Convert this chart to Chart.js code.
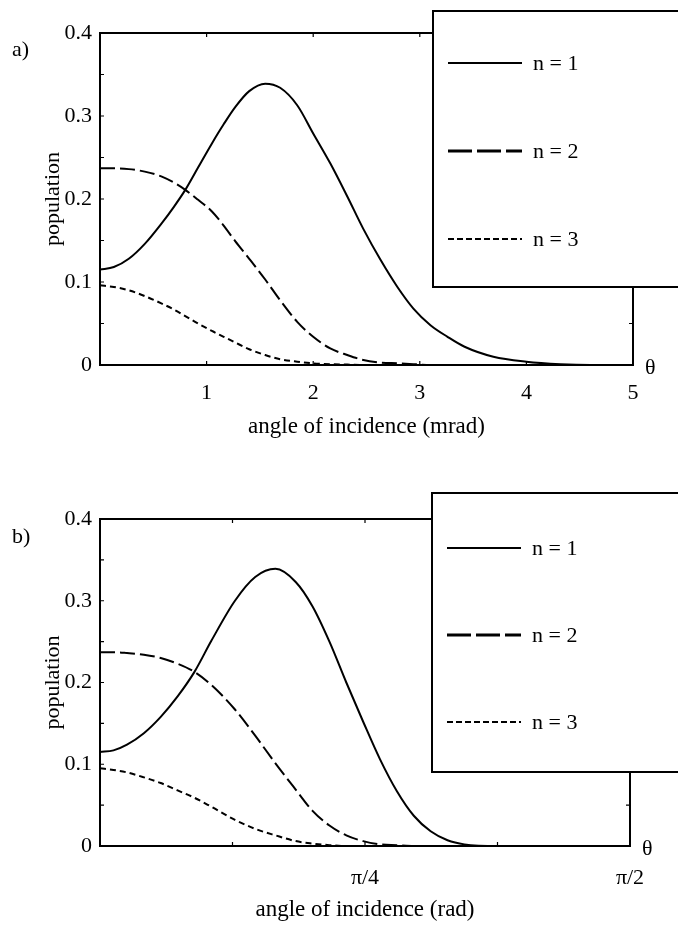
<!DOCTYPE html>
<html lang="en">
<head>
<meta charset="UTF-8" />
<title>Population vs angle of incidence</title>
<script src="https://cdn.jsdelivr.net/npm/chart.js"></script>
<style>
  * { margin: 0; padding: 0; box-sizing: border-box; }
  body { width: 678px; height: 937px; background: #fff; position: relative; overflow: hidden; }
  .panel { position: absolute; left: 0; width: 678px; }
  #panelA { top: 0; height: 450px; }
  #panelB { top: 450px; height: 487px; }
</style>
</head>
<body>
<div class="panel" id="panelA"><canvas id="chartA"></canvas></div>
<div class="panel" id="panelB"><canvas id="chartB"></canvas></div>

<script>
// panel a) angle in mrad
const anglesA = [0, 0.13, 0.27, 0.42, 0.58, 0.69, 0.80, 0.92, 1.05, 1.16, 1.27, 1.40, 1.55, 1.69, 1.85, 2.0, 2.16, 2.32, 2.47, 2.63, 2.79, 2.94, 3.10, 3.26, 3.42, 3.69, 4.0, 4.32, 4.6, 5.0];
const popA1 = [0.115, 0.118, 0.128, 0.146, 0.171, 0.190, 0.211, 0.238, 0.267, 0.290, 0.311, 0.330, 0.339, 0.334, 0.313, 0.279, 0.243, 0.203, 0.164, 0.127, 0.094, 0.068, 0.048, 0.034, 0.022, 0.010, 0.004, 0.001, 0, 0];
const popA2 = [0.237, 0.237, 0.236, 0.233, 0.227, 0.220, 0.211, 0.199, 0.185, 0.168, 0.149, 0.128, 0.103, 0.078, 0.052, 0.034, 0.020, 0.012, 0.006, 0.003, 0.002, 0.001, 0, 0, 0, 0, 0, 0, 0, 0];
const popA3 = [0.096, 0.094, 0.090, 0.083, 0.074, 0.067, 0.059, 0.050, 0.041, 0.034, 0.027, 0.019, 0.012, 0.007, 0.004, 0.002, 0.001, 0.0005, 0, 0, 0, 0, 0, 0, 0, 0, 0, 0, 0, 0];

// panel b) angle in rad
const anglesB = [0, 0.04, 0.08, 0.13, 0.18, 0.23, 0.28, 0.33, 0.40, 0.46, 0.52, 0.58, 0.63, 0.68, 0.73, 0.78, 0.83, 0.88, 0.93, 0.98, 1.03, 1.08, 1.18, 1.3, 1.571];
const popB1 = [0.115, 0.117, 0.124, 0.138, 0.158, 0.183, 0.213, 0.251, 0.300, 0.329, 0.339, 0.323, 0.293, 0.250, 0.200, 0.152, 0.106, 0.067, 0.037, 0.018, 0.007, 0.002, 0, 0, 0];
const popB2 = [0.237, 0.237, 0.236, 0.234, 0.230, 0.223, 0.213, 0.197, 0.167, 0.135, 0.101, 0.069, 0.043, 0.025, 0.013, 0.006, 0.002, 0.001, 0, 0, 0, 0, 0, 0, 0];
const popB3 = [0.095, 0.093, 0.090, 0.084, 0.077, 0.068, 0.059, 0.048, 0.032, 0.021, 0.013, 0.006, 0.003, 0.001, 0, 0, 0, 0, 0, 0, 0, 0, 0, 0, 0];

const seriesLabels = ['n = 1', 'n = 2', 'n = 3'];
const yTicks = [0, 0.1, 0.2, 0.3, 0.4];
const xTicksA = [1, 2, 3, 4, 5];
const xTicksB = [Math.PI / 4, Math.PI / 2];
const xTickLabelsB = ['π/4', 'π/2'];

const SERIF = "'Liberation Serif', 'Times New Roman', serif";
const dashes = [[], [15, 5], [6, 4]];
const legendDashes = [[], [24, 5], [6, 3]];

function points(xs, ys) {
  return xs.map((x, i) => ({ x: x, y: ys[i] }));
}

function makeDatasets(xs, series) {
  return series.map((ys, i) => ({
    label: seriesLabels[i],
    data: points(xs, ys),
    borderColor: '#000',
    borderWidth: 2,
    borderDash: dashes[i],
    pointRadius: 0,
    cubicInterpolationMode: 'monotone',
    fill: false
  }));
}

// frame, inward ticks, legend box, theta and panel letter
const figurePlugin = {
  id: 'figure',
  afterDatasetsDraw(chart, args, opts) {
    const { ctx, chartArea: a } = chart;
    const x = chart.scales.x, y = chart.scales.y;
    const box = opts.box;
    ctx.save();
    ctx.strokeStyle = '#000';
    ctx.lineWidth = 2;
    ctx.beginPath();
    ctx.moveTo(a.left, a.top); ctx.lineTo(box.left, a.top);
    ctx.moveTo(a.right, box.bottom); ctx.lineTo(a.right, a.bottom + 1);
    ctx.stroke();

    ctx.lineWidth = 1.2;
    ctx.beginPath();
    for (let k = 0; k <= 8; k++) {
      const py = y.getPixelForValue(k * 0.05);
      ctx.moveTo(a.left, py); ctx.lineTo(a.left + 4, py);
      if (py > box.bottom) { ctx.moveTo(a.right, py); ctx.lineTo(a.right - 4, py); }
    }
    opts.minorX.forEach(v => {
      const px = x.getPixelForValue(v);
      ctx.moveTo(px, a.bottom); ctx.lineTo(px, a.bottom - 4);
      if (px < box.left) { ctx.moveTo(px, a.top); ctx.lineTo(px, a.top + 4); }
    });
    ctx.stroke();

    // legend box, open on the right edge
    ctx.fillStyle = '#fff';
    ctx.fillRect(box.left, box.top, chart.width - box.left + 10, box.bottom - box.top);
    ctx.lineWidth = 2;
    ctx.beginPath();
    ctx.moveTo(chart.width + 5, box.top);
    ctx.lineTo(box.left, box.top);
    ctx.lineTo(box.left, box.bottom);
    ctx.lineTo(chart.width + 5, box.bottom);
    ctx.stroke();

    ctx.font = '22px ' + SERIF;
    ctx.fillStyle = '#000';
    ctx.textBaseline = 'middle';
    ctx.textAlign = 'left';
    chart.data.datasets.forEach((ds, i) => {
      const ly = opts.rows[i];
      ctx.setLineDash(legendDashes[i]);
      ctx.lineWidth = i === 1 ? 3 : 2;
      ctx.beginPath();
      ctx.moveTo(box.left + 15, ly);
      ctx.lineTo(box.left + 89, ly);
      ctx.stroke();
      ctx.setLineDash([]);
      ctx.fillText(ds.label, box.left + 100, ly + 1);
    });

    ctx.fillText('θ', a.right + 12, a.bottom + 3);
    ctx.fillText(opts.letter, 12, opts.letterY);
    ctx.restore();
  }
};

function makeChart(canvasId, xs, series, cfg) {
  return new Chart(document.getElementById(canvasId), {
    type: 'line',
    data: { datasets: makeDatasets(xs, series) },
    plugins: [figurePlugin],
    options: {
      responsive: true,
      maintainAspectRatio: false,
      animation: false,
      events: [],
      layout: { padding: { left: 0, right: cfg.padRight, top: cfg.padTop, bottom: 0 } },
      plugins: {
        legend: { display: false },
        tooltip: { enabled: false },
        figure: cfg.figure
      },
      scales: {
        x: {
          type: 'linear',
          min: 0,
          max: cfg.xMax,
          grid: { display: false, drawTicks: false },
          border: { display: true, color: '#000', width: 2 },
          afterBuildTicks: s => { s.ticks = cfg.xTicks.map(v => ({ value: v })); },
          afterFit: s => { s.height = cfg.xHeight; },
          ticks: {
            autoSkip: false,
            maxRotation: 0,
            padding: cfg.xTickPad,
            color: '#000',
            font: { family: SERIF, size: 22 },
            callback: (v, i) => cfg.xLabels[i]
          },
          title: {
            display: true,
            text: cfg.xTitle,
            color: '#000',
            font: { family: SERIF, size: 23 },
            padding: { top: 0, bottom: cfg.xTitlePad }
          }
        },
        y: {
          min: 0,
          max: 0.4,
          grid: { display: false, drawTicks: false },
          border: { display: true, color: '#000', width: 2 },
          afterBuildTicks: s => { s.ticks = yTicks.map(v => ({ value: v })); },
          afterFit: s => { s.width = 100; },
          ticks: {
            padding: 8,
            color: '#000',
            font: { family: SERIF, size: 22 },
            callback: v => String(v)
          },
          title: {
            display: true,
            text: 'population',
            color: '#000',
            font: { family: SERIF, size: 22 },
            padding: { top: 40, bottom: 0 }
          }
        }
      }
    }
  });
}

makeChart('chartA', anglesA, [popA1, popA2, popA3], {
  xMax: 5,
  xTicks: xTicksA,
  xLabels: xTicksA.map(String),
  xTitle: 'angle of incidence (mrad)',
  padRight: 45,
  padTop: 33,
  xHeight: 85,
  xTickPad: 15,
  xTitlePad: 9,
  figure: {
    box: { left: 433, top: 11, bottom: 287 },
    rows: [63, 151, 239],
    minorX: [1, 2, 3, 4],
    letter: 'a)',
    letterY: 50
  }
});

makeChart('chartB', anglesB, [popB1, popB2, popB3], {
  xMax: Math.PI / 2,
  xTicks: xTicksB,
  xLabels: xTickLabelsB,
  xTitle: 'angle of incidence (rad)',
  padRight: 48,
  padTop: 69,
  xHeight: 91,
  xTickPad: 19,
  xTitlePad: 13,
  figure: {
    box: { left: 432, top: 43, bottom: 322 },
    rows: [98, 185, 272],
    minorX: [Math.PI / 8, Math.PI / 4, 3 * Math.PI / 8],
    letter: 'b)',
    letterY: 87
  }
});
</script>
</body>
</html>
